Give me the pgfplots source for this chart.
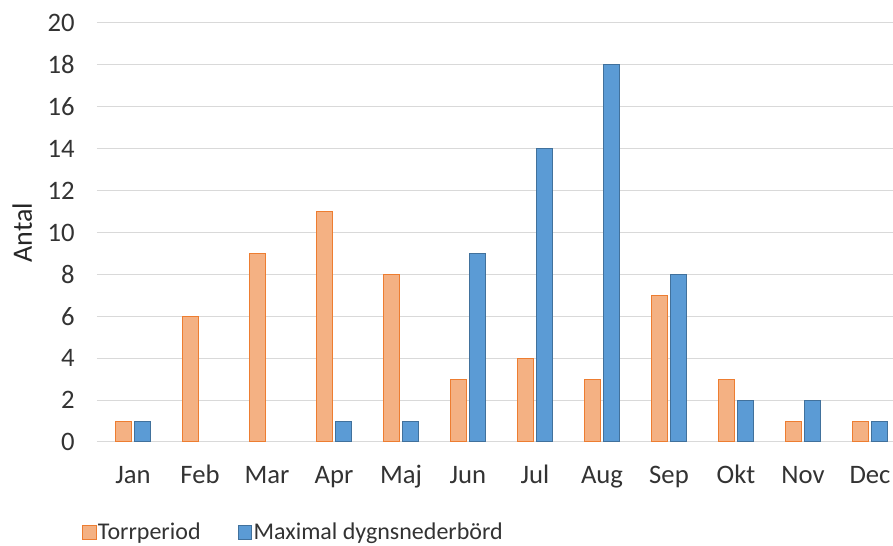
\documentclass[border=0pt]{standalone}
\usepackage{fontspec}
\setmainfont{Carlito}
\usepackage{pgfplots}
\pgfplotsset{compat=1.18}
\definecolor{orfill}{HTML}{F4B183}
\definecolor{ordraw}{HTML}{ED7D31}
\definecolor{blfill}{HTML}{5B9BD5}
\definecolor{bldraw}{HTML}{41719C}
\definecolor{gridc}{HTML}{D9D9D9}
\begin{document}
\begin{tikzpicture}
\useasboundingbox (-72.75pt,-78pt) rectangle (597pt,331.5pt);
\begin{axis}[
  at={(0,0)}, anchor=south west,
  scale only axis, width=597pt, height=314.25pt,
  xmin=-0.537, xmax=11.343, ymin=0, ymax=20,
  ytick={0,2,...,20},
  xtick={0,1,...,11},
  xticklabels={Jan,Feb,Mar,Apr,Maj,Jun,Jul,Aug,Sep,Okt,Nov,Dec},
  ymajorgrids, grid style={gridc, line width=0.75pt},
  axis line style={draw=none}, major tick length=0pt,
  /pgf/number format/assume math mode=true,
  ticklabel style={font=\fontsize{20}{24}\selectfont, text=black!80},
  yticklabel style={anchor=east, inner sep=0pt, xshift=-16.5pt},
  xticklabel style={anchor=base, inner sep=0pt, yshift=-31.5pt},
  ylabel={Antal},
  ylabel style={font=\fontsize{21}{25}\selectfont, text=black!85, at={(axis description cs:-0.08166,0.5)}, anchor=base, inner sep=0pt},
  ybar=2.2pt, bar width=12pt,
  legend columns=2,
  legend image code/.code={\draw[#1, line width=0.75pt] (0pt,0pt) rectangle (10pt,10pt);},
  legend style={at={(axis description cs:-0.0188,-0.2405)}, anchor=south west, draw=none, fill=none, inner sep=0pt,
    font=\fontsize{18}{22}\selectfont, text=black!80,
    cells={anchor=base west}, nodes={inner sep=1pt},
    /tikz/every odd column/.append style={column sep=0pt},
    /tikz/every even column/.append style={column sep=27pt}},
]
\addplot[fill=orfill, draw=ordraw, line width=0.75pt] coordinates {
  (0,1) (1,6) (2,9) (3,11) (4,8) (5,3) (6,4) (7,3) (8,7) (9,3) (10,1) (11,1)};
\addplot[fill=blfill, draw=bldraw, line width=0.75pt] coordinates {
  (0,1) (3,1) (4,1) (5,9) (6,14) (7,18) (8,8) (9,2) (10,2) (11,1)};
\legend{Torrperiod, Maximal dygnsnederbörd}
\end{axis}
\end{tikzpicture}
\end{document}
